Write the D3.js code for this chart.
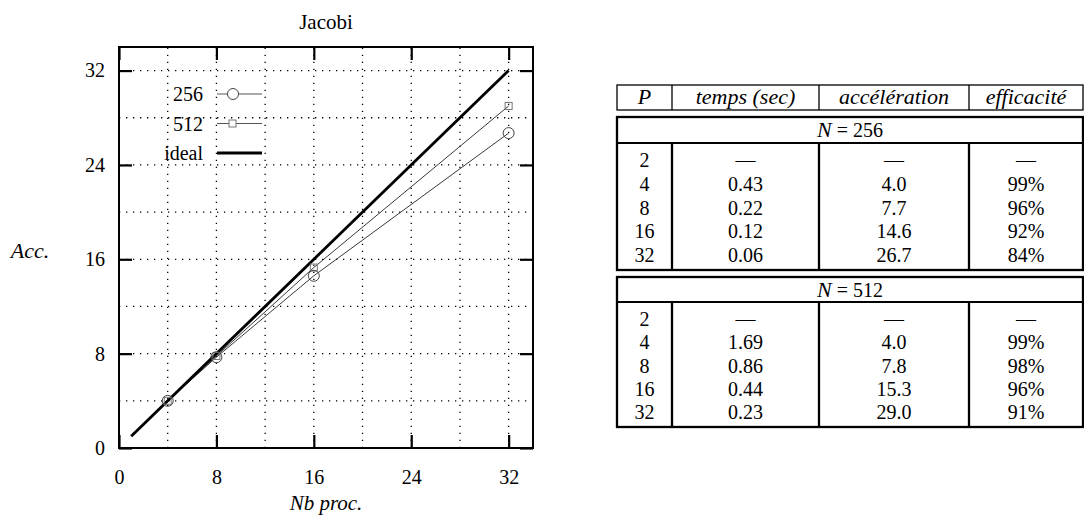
<!DOCTYPE html>
<html>
<head>
<meta charset="utf-8">
<script src="https://cdn.jsdelivr.net/npm/d3@7"></script>
<style>html, body { margin: 0; padding: 0; background: #fff; }</style>
</head>
<body>
<svg id="chart" width="1084" height="517"></svg>
<script>
// ---------- data ----------
const procs     = [2, 4, 8, 16, 32];
const time256   = [null, 0.43, 0.22, 0.12, 0.06];
const acc256    = [null, 4.0, 7.7, 14.6, 26.7];
const eff256    = [null, 99, 96, 92, 84];
const time512   = [null, 1.69, 0.86, 0.44, 0.23];
const acc512    = [null, 4.0, 7.8, 15.3, 29.0];
const eff512    = [null, 99, 98, 96, 91];
const idealX    = [1, 32];
const seriesNames = ["256", "512", "ideal"];
const xTicks    = [0, 8, 16, 24, 32];
const yTicks    = [0, 8, 16, 24, 32];
const gridVals  = [4, 8, 12, 16, 20, 24, 28, 32];
const tableHeaders = ["P", "temps (sec)", "accélération", "efficacité"];
const sectionNs = ["256", "512"];
const title = "Jacobi";
const xLabel = "Nb proc.";
const yLabel = "Acc.";

const FONT = "Liberation Serif";
const FS = 20;      // roman text
const FSI = 22;     // italic text

// ---------- chart ----------
const svg = d3.select("#chart");
const x = d3.scaleLinear().domain([0, 34]).range([119, 533]);
const y = d3.scaleLinear().domain([0, 34]).range([448, 47]);

function txt(parent, tx, ty, s, anchor, italic, size) {
  return parent.append("text").attr("x", tx).attr("y", ty)
    .attr("font-family", FONT).attr("font-size", size || (italic ? FSI : FS)).attr("fill", "#000")
    .attr("font-style", italic ? "italic" : "normal")
    .attr("text-anchor", anchor || "middle").text(s);
}

// grid
const grid = svg.append("g").attr("stroke", "#000").attr("stroke-width", 1.3)
  .attr("stroke-dasharray", "1.3,5.7");
grid.selectAll("line.v").data(gridVals).join("line").attr("class", "v")
  .attr("x1", d => x(d)).attr("x2", d => x(d)).attr("y1", y(0)).attr("y2", y(34));
grid.selectAll("line.h").data(gridVals).join("line").attr("class", "h")
  .attr("y1", d => y(d)).attr("y2", d => y(d)).attr("x1", x(0)).attr("x2", x(34));

// axes (inward ticks on all four sides)
function styleAxis(g) {
  g.attr("font-family", FONT).attr("font-size", FS);
  g.select(".domain").remove();
  g.selectAll(".tick line").attr("stroke", "#000").attr("stroke-width", 2.2);
  g.selectAll(".tick text").attr("font-family", FONT).attr("font-size", FS).attr("fill", "#000");
}
svg.append("g").attr("transform", `translate(0,${y(0)})`)
  .call(d3.axisBottom(x).tickValues(xTicks).tickSize(-13).tickSizeOuter(0).tickPadding(22).tickFormat(d3.format("d")))
  .call(styleAxis);
svg.append("g").attr("transform", `translate(0,${y(34)})`)
  .call(d3.axisTop(x).tickValues(xTicks).tickSize(-13).tickSizeOuter(0).tickFormat(""))
  .call(styleAxis);
svg.append("g").attr("transform", `translate(${x(0)},0)`)
  .call(d3.axisLeft(y).tickValues(yTicks).tickSize(-13).tickSizeOuter(0).tickPadding(14).tickFormat(d3.format("d")))
  .call(styleAxis);
svg.append("g").attr("transform", `translate(${x(34)},0)`)
  .call(d3.axisRight(y).tickValues(yTicks).tickSize(-13).tickSizeOuter(0).tickFormat(""))
  .call(styleAxis);

// frame
svg.append("rect").attr("x", x(0)).attr("y", y(34))
  .attr("width", x(34) - x(0)).attr("height", y(0) - y(34))
  .attr("fill", "none").attr("stroke", "#000").attr("stroke-width", 2);

// series
const pts256 = procs.map((p, i) => ({ p, a: acc256[i] })).filter(d => d.a !== null);
const pts512 = procs.map((p, i) => ({ p, a: acc512[i] })).filter(d => d.a !== null);
const line = d3.line().x(d => x(d.p)).y(d => y(d.a));

svg.append("path").datum(pts256).attr("d", line)
  .attr("fill", "none").attr("stroke", "#222").attr("stroke-width", 0.9);
svg.append("path").datum(pts512).attr("d", line)
  .attr("fill", "none").attr("stroke", "#222").attr("stroke-width", 0.9);
svg.append("path").datum(idealX.map(v => ({ p: v, a: v }))).attr("d", line)
  .attr("fill", "none").attr("stroke", "#000").attr("stroke-width", 2.8);

svg.selectAll("rect.m512").data(pts512).join("rect").attr("class", "m512")
  .attr("x", d => x(d.p) - 3.5).attr("y", d => y(d.a) - 3.5)
  .attr("width", 7).attr("height", 7)
  .attr("fill", "none").attr("stroke", "#777").attr("stroke-width", 1);
svg.selectAll("circle.m256").data(pts256).join("circle").attr("class", "m256")
  .attr("cx", d => x(d.p)).attr("cy", d => y(d.a)).attr("r", 5.5)
  .attr("fill", "none").attr("stroke", "#444").attr("stroke-width", 1);

// legend
const legY = d3.scalePoint().domain(seriesNames).range([94, 153]);
const leg = svg.append("g");
seriesNames.forEach(name => {
  const ly = legY(name);
  txt(leg, 203, ly + 7, name, "end", false);
  leg.append("line").attr("x1", 217).attr("x2", 262).attr("y1", ly).attr("y2", ly)
    .attr("stroke", name === "ideal" ? "#000" : "#555")
    .attr("stroke-width", name === "ideal" ? 2.8 : 1);
  if (name === "256") {
    leg.append("circle").attr("cx", 233).attr("cy", ly).attr("r", 5.5)
      .attr("fill", "#fff").attr("stroke", "#444").attr("stroke-width", 1);
  } else if (name === "512") {
    leg.append("rect").attr("x", 229).attr("y", ly - 3.5).attr("width", 7).attr("height", 7)
      .attr("fill", "#fff").attr("stroke", "#777").attr("stroke-width", 1);
  }
});

// titles
txt(svg, 326, 29, title, "middle", false, 21);
txt(svg, (x(0) + x(34)) / 2, 510, xLabel, "middle", true, 21);
txt(svg, 30, 258, yLabel, "middle", true);

// ---------- table ----------
const colEdges = [617, 672, 819, 969, 1083];
const colCenters = colEdges.slice(0, -1).map((e, i) => (e + colEdges[i + 1]) / 2);
const tbl = svg.append("g");

// header
tbl.append("rect").attr("x", colEdges[0]).attr("y", 85)
  .attr("width", colEdges[4] - colEdges[0]).attr("height", 25)
  .attr("fill", "none").attr("stroke", "#000").attr("stroke-width", 1.3);
colEdges.slice(1, -1).forEach(cx => {
  tbl.append("line").attr("x1", cx).attr("x2", cx).attr("y1", 85).attr("y2", 110)
    .attr("stroke", "#000").attr("stroke-width", 1.3);
});
tableHeaders.forEach((h, i) => txt(tbl, colCenters[i], 104, h, "middle", true));

const sections = [
  { n: sectionNs[0], top: 117, sub: 143, bottom: 270, times: time256, accs: acc256, effs: eff256 },
  { n: sectionNs[1], top: 277, sub: 302, bottom: 427, times: time512, accs: acc512, effs: eff512 }
];
sections.forEach(s => {
  tbl.append("rect").attr("x", colEdges[0]).attr("y", s.top)
    .attr("width", colEdges[4] - colEdges[0]).attr("height", s.bottom - s.top)
    .attr("fill", "none").attr("stroke", "#000").attr("stroke-width", 2.3);
  tbl.append("line").attr("x1", colEdges[0]).attr("x2", colEdges[4])
    .attr("y1", s.sub).attr("y2", s.sub).attr("stroke", "#000").attr("stroke-width", 2);
  colEdges.slice(1, -1).forEach(cx => {
    tbl.append("line").attr("x1", cx).attr("x2", cx).attr("y1", s.sub).attr("y2", s.bottom)
      .attr("stroke", "#000").attr("stroke-width", 2.3);
  });
  const t = txt(tbl, (colEdges[0] + colEdges[4]) / 2, (s.top + s.sub) / 2 + 7, "", "middle", false);
  t.append("tspan").attr("font-style", "italic").attr("font-size", FSI).text("N");
  t.append("tspan").text(" = " + s.n);

  const rowY = d3.scaleLinear().domain([0, procs.length - 1]).range([s.sub + 17, s.bottom - 15]);
  procs.forEach((p, i) => {
    const cells = [
      String(p),
      s.times[i] === null ? "—" : s.times[i].toFixed(2),
      s.accs[i] === null ? "—" : s.accs[i].toFixed(1),
      s.effs[i] === null ? "—" : s.effs[i] + "%"
    ];
    cells.forEach((c, j) => txt(tbl, colCenters[j], rowY(i) + 7, c, "middle", false));
  });
});
</script>
</body>
</html>
